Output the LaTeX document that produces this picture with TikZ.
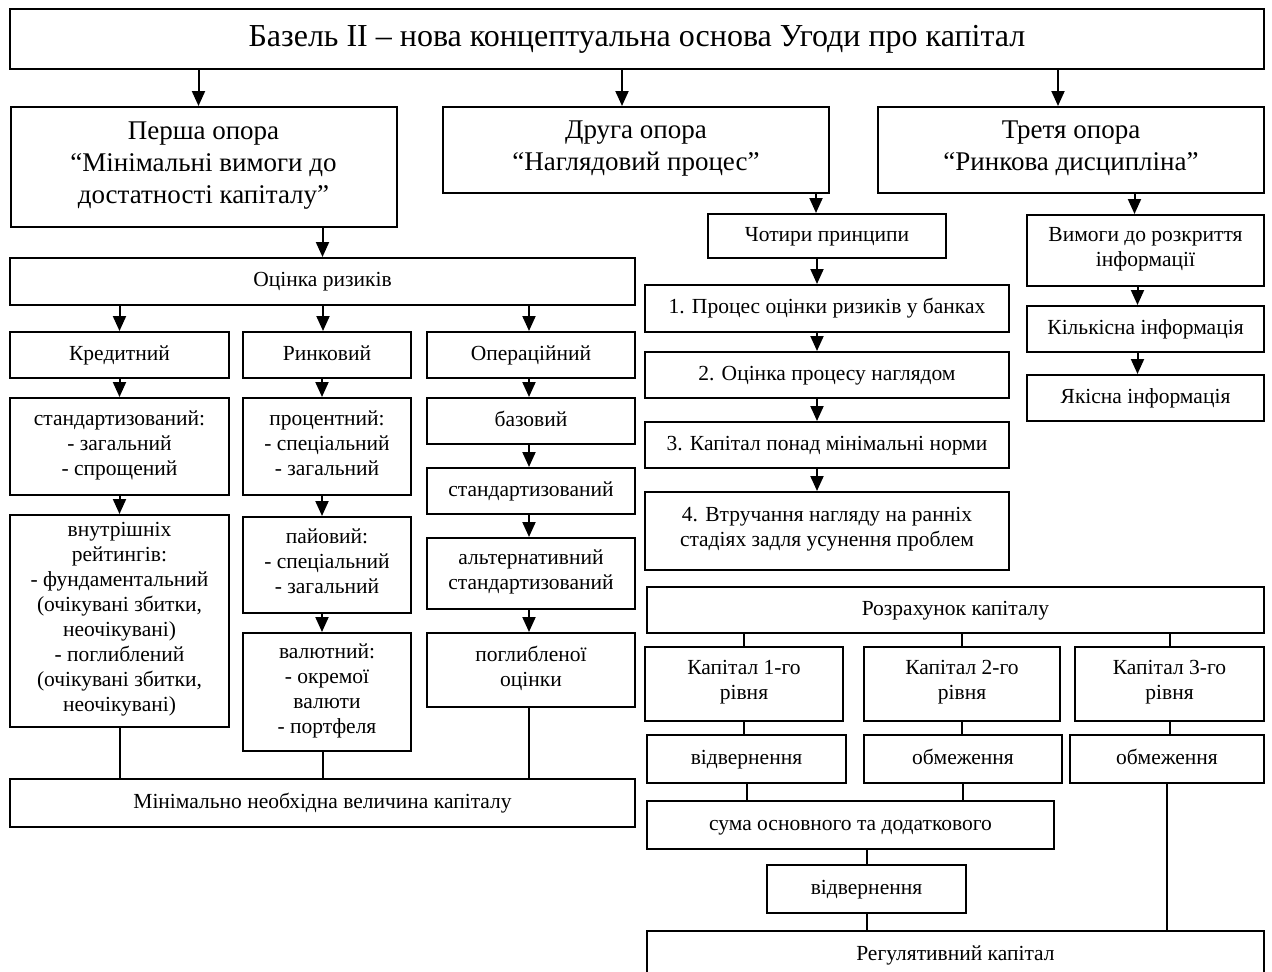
\documentclass[tikz,border=0pt]{standalone}
\usepackage{fontspec}
\setmainfont{Liberation Serif}
\usetikzlibrary{arrows.meta}

\newcommand{\titlesize}{\fontsize{32}{38}\selectfont}
\newcommand{\pillarsize}{\fontsize{27}{32}\selectfont}
\newcommand{\boxsize}{\fontsize{21.5}{25}\selectfont}

\tikzstyle{box} = [draw, line width=2pt, align=center, inner sep=2pt, font=\boxsize,
    execute at begin node=\strut, execute at end node=\strut]
\tikzstyle{title box} = [box, font=\titlesize]
\tikzstyle{pillar box} = [box, font=\pillarsize]
\tikzstyle{arrow edge} = [draw, line width=2pt, -{Triangle[length=15pt,width=13pt]}]
\tikzstyle{link edge} = [draw, line width=2pt]

\begin{document}
\begin{tikzpicture}[x=1pt, y=-1pt]
    \useasboundingbox (0,0) rectangle (1272,972);
    % Top box and the three pillars
    \node[title box, minimum width=1254pt, minimum height=60pt] (Basel) at (637,39)
        {Базель II – нова концептуальна основа Угоди про капітал};
    \foreach \pos/\name/\h/\txt in {
        {(203.5,167)/P1/120/Перша опора\\“Мінімальні вимоги до\\достатності капіталу”},
        {(636,150)/P2/86/Друга опора\\“Наглядовий процес”},
        {(1071,150)/P3/86/Третя опора\\“Ринкова дисципліна”}}
    \node[pillar box, minimum width=386pt, minimum height=\h pt] (\name) at \pos {\txt};
    % First pillar: risk assessment
    \foreach \pos/\name/\w/\h/\txt in {
        {(322.5,281.5)/Risk/625/47/Оцінка ризиків},
        {(119.5,355)/Cred/219/46/Кредитний},
        {(327,355)/Mark/168/46/Ринковий},
        {(531,355)/Oper/208/46/Операційний},
        {(119.5,446.5)/CredA/219/97/стандартизований:\\- загальний\\- спрощений},
        {(327,446.5)/MarkA/168/97/процентний:\\- спеціальний\\- загальний},
        {(327,565)/MarkB/168/96/пайовий:\\- спеціальний\\- загальний},
        {(327,692)/MarkC/168/118/валютний:\\- окремої\\валюти\\- портфеля},
        {(531,421)/OperA/208/46/базовий},
        {(531,491)/OperB/208/46/стандартизований},
        {(531,573.5)/OperC/208/71/альтернативний\\стандартизований},
        {(531,670)/OperD/208/74/поглибленої\\оцінки},
        {(322.5,803)/MinCap/625/48/Мінімально необхідна величина капіталу}}
    \node[box, minimum width=\w pt, minimum height=\h pt] (\name) at \pos {\txt};
    \node[box, minimum width=219pt, minimum height=212pt] (CredB) at (119.5,621)
        {внутрішніх\\рейтингів:\\- фундаментальний\\(очікувані збитки,\\неочікувані)\\- поглиблений\\(очікувані збитки,\\неочікувані)};
    % Second and third pillars, capital calculation
    \foreach \pos/\name/\w/\h/\txt in {
        {(827,236)/Four/238/44/Чотири принципи},
        {(827,308.5)/Pr1/364/47/1. Процес оцінки ризиків у банках},
        {(827,375)/Pr2/364/46/2. Оцінка процесу наглядом},
        {(827,445)/Pr3/364/46/3. Капітал понад мінімальні норми},
        {(827,531)/Pr4/364/78/4. Втручання нагляду на ранніх\\стадіях задля усунення проблем},
        {(1145.5,250.5)/Disc/237/71/Вимоги до розкриття\\інформації},
        {(1145.5,329)/Quant/237/46/Кількісна інформація},
        {(1145.5,398)/Qual/237/46/Якісна інформація},
        {(955.5,610)/Calc/617/46/Розрахунок капіталу},
        {(744,684)/Tier1/198/74/Капітал 1-го\\рівня},
        {(962,684)/Tier2/196/74/Капітал 2-го\\рівня},
        {(1169.5,684)/Tier3/189/74/Капітал 3-го\\рівня},
        {(746.5,759)/Ded1/199/48/відвернення},
        {(963,759)/Lim2/198/48/обмеження},
        {(1167,759)/Lim3/194/48/обмеження},
        {(850.5,825)/Sum/407/48/сума основного та додаткового},
        {(866.5,889)/Ded2/199/48/відвернення},
        {(955.5,955)/Reg/617/48/Регулятивний капітал}}
    \node[box, minimum width=\w pt, minimum height=\h pt] (\name) at \pos {\txt};
    % Arrows (dx: offset of the arrow from the box centre)
    \foreach \source/\dest/\dx in {
        Basel/P1/-5, Basel/P2/-14, Basel/P3/-13,
        P1/Risk/0, P2/Four/-11, P3/Disc/-11,
        Risk/Cred/0, Risk/Mark/-4, Risk/Oper/-2}
    \path[arrow edge] ([xshift=\dx pt]\dest.north |- \source.south) -- ([xshift=\dx pt]\dest.north);
    \foreach \source/\dest/\dx in {
        Cred/CredA/0, CredA/CredB/0, Mark/MarkA/-5, MarkA/MarkB/-5, MarkB/MarkC/-5,
        Oper/OperA/-2, OperA/OperB/-2, OperB/OperC/-2, OperC/OperD/-2,
        Four/Pr1/-10, Pr1/Pr2/-10, Pr2/Pr3/-10, Pr3/Pr4/-10,
        Disc/Quant/-8, Quant/Qual/-8}
    \path[arrow edge] ([xshift=\dx pt]\source.south) -- ([xshift=\dx pt]\dest.north);
    % Plain connecting lines
    \foreach \source/\dx in {CredB/0, MarkC/-4, OperD/-2}
    \path[link edge] ([xshift=\dx pt]\source.south) -- ([xshift=\dx pt]\source.south |- MinCap.north);
    \foreach \dest in {Tier1,Tier2,Tier3}
    \path[link edge] (\dest.north |- Calc.south) -- (\dest.north);
    \foreach \source/\dest in {
        Tier1/Ded1, Tier2/Lim2, Tier3/Lim3, Ded1/Sum, Lim2/Sum, Lim3/Reg, Ded2/Reg}
    \path[link edge] (\source.south) -- (\source.south |- \dest.north);
    \path[link edge] (Ded2.north |- Sum.south) -- (Ded2.north);
\end{tikzpicture}
\end{document}
